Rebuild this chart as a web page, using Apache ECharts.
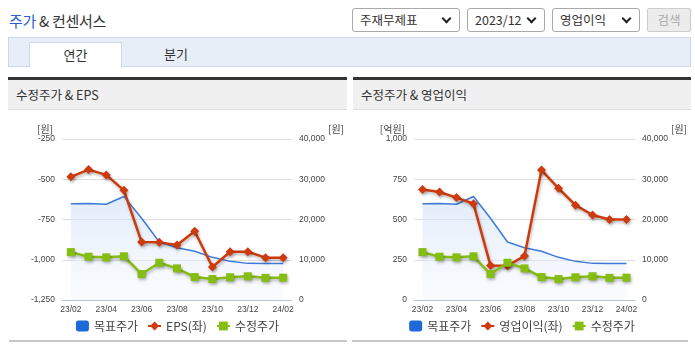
<!DOCTYPE html>
<html><head><meta charset="utf-8">
<script src="https://cdn.jsdelivr.net/npm/echarts@6/dist/echarts.min.js"></script>
<style>
body{margin:0;background:#fff;width:695px;height:349px;overflow:hidden;position:relative;font-family:"Noto Sans CJK KR","Noto Sans",sans-serif;color:#333}
.abs{position:absolute}
#title{left:9px;top:9px;font-size:15px;line-height:24px;color:#333;letter-spacing:-0.3px}
#title b{font-weight:normal;color:#2a5fd0}
.sel{top:8px;height:22px;border:1px solid #a9a9a9;border-radius:3px;background:#fff;font-size:12.5px;line-height:22px;padding-left:7px;box-sizing:content-box}
.sel i{position:absolute;right:9px;top:6px;width:5px;height:5px;border-right:2px solid #222;border-bottom:2px solid #222;transform:rotate(45deg)}
#btn{left:647px;top:8px;width:42px;height:22px;border:1px solid #ccc;border-radius:2px;background:#ececec;color:#aaa;font-size:12.5px;line-height:22px;text-align:center}
#tabs{left:8px;top:37px;width:681px;height:28px;background:#e8eef8;border:1px solid #cdd8ea}
#tab1{left:29px;top:42px;width:91px;height:24px;background:#fff;border:1px solid #cdd8ea;border-bottom:none;font-size:13px;line-height:23px;text-align:center}
#tab2{left:150px;top:42px;width:52px;height:24px;font-size:13px;line-height:23px;text-align:center}
.ph{top:77px;height:29px;border-top:3px solid #333;background:#f0f0f0;border-bottom:1px solid #ddd;font-size:12.5px;line-height:30px;padding-left:8px;box-sizing:content-box}
.bl{top:340px;height:2px;background:#c8c8c8}
.chart{top:110px;height:230px}
</style></head>
<body>
<div id="title" class="abs"><b>주가</b> &amp; 컨센서스</div>
<div class="abs sel" style="left:352px;width:99px">주재무제표<i></i></div>
<div class="abs sel" style="left:467px;width:69px">2023/12<i></i></div>
<div class="abs sel" style="left:552px;width:79px">영업이익<i></i></div>
<div id="btn" class="abs">검색</div>
<div id="tabs" class="abs"></div>
<div id="tab1" class="abs">연간</div>
<div id="tab2" class="abs">분기</div>
<div class="abs ph" style="left:8px;width:331px">수정주가 &amp; EPS</div>
<div class="abs ph" style="left:353px;width:330px">수정주가 &amp; 영업이익</div>
<div id="c1" class="abs chart" style="left:8px;width:339px"></div>
<div id="c2" class="abs chart" style="left:353px;width:338px"></div>
<div class="abs bl" style="left:9px;width:338px"></div>
<div class="abs bl" style="left:352px;width:336px"></div>
<script>
const months = ['23/02','23/03','23/04','23/05','23/06','23/07','23/08','23/09','23/10','23/11','23/12','24/01','24/02'];
const targetPrice = [23900, 24000, 23800, 25700, 20300, 14400, 13000, 12100, 10600, 9600, 9100, 9050, 9050];
const adjustedPrice = [11900, 10750, 10600, 10850, 6450, 9250, 7850, 5700, 5200, 5650, 5900, 5500, 5550];
const eps = [-485, -440, -473, -569, -890, -892, -908, -823, -1045, -950, -950, -987, -987];
const operatingIncome = [687, 671, 636, 598, 214, 212, 274, 807, 694, 589, 528, 500, 500];

const labelFont = {fontSize: 8.5, color: '#444', fontFamily: 'Liberation Sans, Arial, sans-serif'};
const nameFont = {fontSize: 10, color: '#444', fontFamily: '"Noto Sans CJK KR", sans-serif'};
const shadow = {shadowColor: 'rgba(0,0,0,0.28)', shadowBlur: 3, shadowOffsetX: 1, shadowOffsetY: 2};
const fmt = v => v.toLocaleString('en-US');

function build(gridLeft, gridRight, leftName, leftMin, leftMax, redName, redData) {
  return {
    animation: false,
    grid: {left: gridLeft, right: gridRight, top: 29, bottom: 40},
    legend: {
      top: 205, left: 'center', itemWidth: 13, itemHeight: 11, itemGap: 9, itemTextGap: 4,
      textStyle: {fontSize: 12, color: '#444', fontFamily: '"Noto Sans CJK KR", sans-serif'},
      data: [{name: '목표주가', icon: 'roundRect', itemStyle: {color: '#1e68d8'}}, redName, '수정주가']
    },
    xAxis: {
      type: 'category', data: months, boundaryGap: true,
      axisLine: {lineStyle: {color: '#bcc4d0'}},
      axisTick: {length: 4, lineStyle: {color: '#bcc4d0'}},
      axisLabel: Object.assign({interval: 1, margin: 5}, labelFont)
    },
    yAxis: [
      {
        type: 'value', min: leftMin, max: leftMax, interval: 250,
        name: leftName, nameLocation: 'end', nameGap: 5,
        nameTextStyle: Object.assign({align: 'right', padding: [0, 9, 0, 0]}, nameFont),
        axisLine: {show: false}, axisTick: {show: false},
        axisLabel: Object.assign({margin: 7, formatter: fmt}, labelFont),
        splitLine: {lineStyle: {color: '#dcdcdc'}}
      },
      {
        type: 'value', min: 0, max: 40000, interval: 10000,
        name: '[원]', nameLocation: 'end', nameGap: 5,
        nameTextStyle: Object.assign({align: 'left', padding: [0, 0, 0, 36]}, nameFont),
        axisLine: {show: false}, axisTick: {show: false},
        axisLabel: Object.assign({margin: 7, formatter: fmt}, labelFont),
        splitLine: {show: false}
      }
    ],
    series: [
      {
        name: '목표주가', type: 'line', yAxisIndex: 1, data: targetPrice,
        symbol: 'none', z: 1,
        lineStyle: {color: '#3f7ad6', width: 1.5},
        itemStyle: {color: '#1e68d8'},
        areaStyle: {color: new echarts.graphic.LinearGradient(0, 0, 0, 1, [
          {offset: 0, color: 'rgba(205,223,247,0.85)'},
          {offset: 1, color: 'rgba(240,245,253,0.5)'}
        ])}
      },
      {
        name: redName, type: 'line', yAxisIndex: 0, data: redData,
        symbol: 'diamond', symbolSize: 9, z: 3,
        lineStyle: Object.assign({color: '#cf3a0c', width: 2.5}, shadow),
        itemStyle: Object.assign({color: '#cf3a0c'}, shadow)
      },
      {
        name: '수정주가', type: 'line', yAxisIndex: 1, data: adjustedPrice,
        symbol: 'rect', symbolSize: 8, z: 4,
        lineStyle: Object.assign({color: '#86bd13', width: 2.5}, shadow),
        itemStyle: Object.assign({color: '#86bd13'}, shadow)
      }
    ]
  };
}

const c1 = echarts.init(document.getElementById('c1'));
c1.setOption(build(54, 54, '[원]', -1250, -250, 'EPS(좌)', eps));
const c2 = echarts.init(document.getElementById('c2'));
c2.setOption(build(61, 56, '[억원]', 0, 1000, '영업이익(좌)', operatingIncome));
</script>
</body></html>
